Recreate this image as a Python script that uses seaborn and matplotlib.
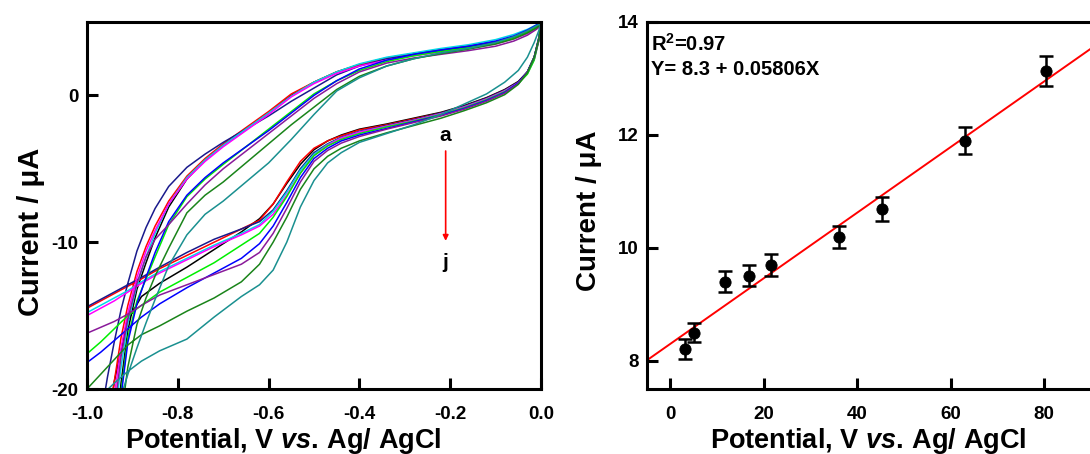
import matplotlib
matplotlib.use("Agg")
import matplotlib.pyplot as plt
import seaborn as sns
import pandas as pd

# ---------------- Left panel data: cyclic voltammograms a..j ----------------
V_low = [0.0, -0.005, -0.015, -0.03, -0.05, -0.08, -0.12, -0.17, -0.22, -0.28,
         -0.34, -0.40, -0.44, -0.47, -0.50, -0.53, -0.56, -0.59, -0.62, -0.66,
         -0.72, -0.78, -0.84, -0.88, -0.91, -0.94, -0.97, -1.0, -1.06]
V_up = [-0.99, -0.97, -0.955, -0.94, -0.925, -0.91, -0.89, -0.87, -0.85, -0.82, -0.78,
        -0.74, -0.70, -0.65, -0.60, -0.55, -0.50, -0.45, -0.40, -0.34, -0.28,
        -0.22, -0.16, -0.10, -0.06, -0.03, -0.01, 0.0]

a_low = [4.8, 3.9, 2.6, 1.6, 0.95, 0.4, -0.15, -0.7, -1.15, -1.55, -1.95, -2.3, -2.7, -3.1,
         -3.7, -4.7, -6.0, -7.4, -8.4, -9.3, -10.5, -11.7, -12.8, -13.7, -15.3, -19.5, -26, -33, -40]
a_up = [-60, -40, -32, -24, -19.6, -16.0, -13.2, -11.4, -9.7, -7.6, -5.7, -4.4, -3.4, -2.3, -1.2,
        0.0, 0.9, 1.6, 2.1, 2.55, 2.85, 3.1, 3.35, 3.65, 4.0, 4.35, 4.7, 4.85]
b_low = [4.8, 3.8, 2.5, 1.55, 0.9, 0.35, -0.2, -0.75, -1.2, -1.6, -2.0, -2.35, -2.75, -3.1,
         -3.6, -4.5, -5.9, -7.4, -8.5, -9.1, -10.0, -10.9, -11.8, -12.5, -13.0, -13.5, -14.0, -14.5, -24]
b_up = [-60, -28, -23, -19.5, -16.5, -14.3, -12.0, -10.3, -8.9, -7.2, -5.5, -4.3, -3.3, -2.2, -1.1,
        0.1, 0.9, 1.6, 2.1, 2.55, 2.85, 3.1, 3.35, 3.65, 4.0, 4.35, 4.7, 4.85]
c_low = [4.85, 3.9, 2.6, 1.6, 0.9, 0.35, -0.2, -0.75, -1.2, -1.65, -2.05, -2.45, -2.85, -3.3,
         -3.9, -5.0, -6.5, -7.8, -8.6, -9.1, -9.8, -10.7, -11.7, -12.4, -12.9, -13.4, -13.9, -14.4, -24]
c_up = [-60, -22, -19.2, -16.8, -14.6, -12.8, -10.6, -9.0, -7.7, -6.2, -4.9, -4.0, -3.2, -2.3, -1.4,
        -0.4, 0.5, 1.4, 2.0, 2.5, 2.8, 3.05, 3.3, 3.6, 3.95, 4.3, 4.65, 4.85]
d_low = [4.8, 3.8, 2.5, 1.5, 0.85, 0.3, -0.25, -0.8, -1.25, -1.7, -2.1, -2.5, -2.9, -3.35,
         -4.0, -5.1, -6.6, -7.9, -8.8, -9.4, -10.2, -11.1, -12.0, -12.7, -13.3, -13.8, -14.3, -14.8, -24]
d_up = [-60, -35, -28, -22, -18.5, -15.5, -12.9, -11.0, -9.4, -7.4, -5.6, -4.4, -3.4, -2.3, -1.2,
        -0.05, 0.9, 1.6, 2.15, 2.6, 2.9, 3.2, 3.45, 3.8, 4.15, 4.5, 4.8, 4.9]
e_low = [4.75, 3.7, 2.45, 1.5, 0.85, 0.3, -0.25, -0.8, -1.25, -1.7, -2.1, -2.5, -2.9, -3.4,
         -4.1, -5.3, -6.8, -8.1, -8.9, -9.5, -10.3, -11.2, -12.1, -12.8, -13.4, -14.0, -14.5, -15.0, -24]
e_up = [-60, -30, -25, -20.5, -17.2, -14.8, -12.4, -10.6, -9.2, -7.4, -5.7, -4.5, -3.5, -2.4, -1.3,
        -0.1, 0.8, 1.5, 2.0, 2.4, 2.7, 2.95, 3.2, 3.5, 3.85, 4.2, 4.55, 4.8]
f_low = [4.8, 3.7, 2.4, 1.45, 0.8, 0.25, -0.3, -0.85, -1.3, -1.75, -2.15, -2.6, -3.0, -3.45,
         -4.1, -5.3, -6.9, -8.3, -9.4, -10.2, -11.4, -12.4, -13.4, -14.3, -15.0, -15.9, -16.8, -17.6, -24]
f_up = [-60, -40, -32, -25, -20.2, -16.5, -14.0, -12.5, -11.0, -8.8, -6.9, -5.7, -4.7, -3.5, -2.3,
        -1.1, 0.1, 1.0, 1.7, 2.3, 2.7, 3.0, 3.25, 3.55, 3.9, 4.3, 4.65, 4.85]
g_low = [4.85, 3.8, 2.6, 1.6, 0.85, 0.2, -0.35, -0.9, -1.35, -1.8, -2.25, -2.7, -3.1, -3.6,
         -4.3, -5.6, -7.3, -8.9, -10.1, -11.1, -12.1, -13.1, -14.2, -15.1, -15.9, -16.7, -17.5, -18.2, -24]
g_up = [-60, -42, -33, -25.5, -20.5, -16.8, -14.2, -12.4, -10.7, -8.6, -6.8, -5.6, -4.6, -3.5, -2.4,
        -1.2, 0.0, 1.0, 1.8, 2.4, 2.8, 3.1, 3.35, 3.7, 4.05, 4.45, 4.8, 4.9]
h_low = [4.75, 3.75, 2.6, 1.6, 0.8, 0.15, -0.4, -0.95, -1.4, -1.85, -2.3, -2.8, -3.25, -3.75,
         -4.5, -5.9, -7.7, -9.4, -10.7, -11.5, -12.2, -12.9, -13.6, -14.3, -14.9, -15.4, -15.8, -16.2, -24]
h_up = [-60, -33, -27, -21.5, -17.8, -15.2, -12.8, -11.0, -9.8, -8.8, -7.4, -6.1, -5.0, -3.8, -2.6,
        -1.4, -0.2, 0.8, 1.6, 2.2, 2.55, 2.8, 3.05, 3.35, 3.7, 4.1, 4.5, 4.75]
i_low = [4.85, 3.8, 2.6, 1.55, 0.75, 0.05, -0.5, -1.05, -1.55, -2.05, -2.55, -3.1, -3.6, -4.15,
         -5.0, -6.4, -8.3, -10.0, -11.5, -12.7, -13.8, -14.7, -15.7, -16.3, -17.0, -18.0, -19.0, -20.0, -24]
i_up = [-60, -45, -36, -28, -22, -18.5, -15.6, -13.8, -12.3, -10.4, -8.0, -6.8, -5.9, -4.6, -3.3,
        -2.0, -0.8, 0.4, 1.3, 2.0, 2.5, 2.85, 3.15, 3.5, 3.85, 4.25, 4.6, 4.85]
j_low = [4.9, 4.4, 3.6, 2.6, 1.7, 0.9, 0.1, -0.6, -1.3, -2.0, -2.6, -3.2, -3.9, -4.6,
         -5.8, -7.6, -10.0, -11.9, -12.9, -13.7, -15.1, -16.6, -17.4, -18.1, -18.8, -19.6, -20.5, -21.5, -26]
j_up = [-60, -45, -34, -26, -20.5, -19.0, -17.2, -15.5, -13.9, -11.6, -9.5, -8.1, -7.2, -5.9, -4.6,
        -3.0, -1.3, 0.3, 1.2, 2.0, 2.5, 2.9, 3.2, 3.6, 4.0, 4.4, 4.75, 4.9]

curve_names = ["a", "b", "c", "d", "e", "f", "g", "h", "i", "j"]
curve_colors = ["#000000", "#ff0000", "#1a1a8c", "#00d8e8", "#ff00ff",
                "#00ee00", "#0000ff", "#8a1a9a", "#1a841a", "#1a9090"]
lows = [a_low, b_low, c_low, d_low, e_low, f_low, g_low, h_low, i_low, j_low]
ups = [a_up, b_up, c_up, d_up, e_up, f_up, g_up, h_up, i_up, j_up]

left_xticks = [-1.0, -0.8, -0.6, -0.4, -0.2, 0.0]
left_xticklabels = ["-1.0", "-0.8", "-0.6", "-0.4", "-0.2", "0.0"]
left_yticks = [0, -10, -20]
left_yticklabels = ["0", "-10", "-20"]

# ---------------- Right panel data: calibration ----------------
conc = [3.1, 5.1, 11.7, 16.8, 21.6, 36.1, 45.3, 63.1, 80.4]
current = [8.21, 8.50, 9.40, 9.51, 9.70, 10.19, 10.69, 11.90, 13.13]
current_err = [0.18, 0.17, 0.19, 0.19, 0.19, 0.20, 0.21, 0.24, 0.27]
fit_intercept = 8.3
fit_slope = 0.05806
right_xticks = [0, 20, 40, 60, 80]
right_yticks = [8, 10, 12, 14]

# ---------------- Styling ----------------
sns.set_theme(style="ticks")
plt.rcParams["font.family"] = ["Liberation Sans", "DejaVu Sans"]
plt.rcParams["font.weight"] = "bold"
plt.rcParams["mathtext.fontset"] = "custom"
plt.rcParams["mathtext.rm"] = "Liberation Sans:bold"
plt.rcParams["mathtext.it"] = "Liberation Sans:italic:bold"
plt.rcParams["mathtext.bf"] = "Liberation Sans:bold"
plt.rcParams["axes.unicode_minus"] = False
for key in ["text.color", "axes.labelcolor", "xtick.color", "ytick.color", "axes.edgecolor"]:
    plt.rcParams[key] = "black"

fig = plt.figure(figsize=(10.9, 4.54), dpi=100)
ax1 = fig.add_axes([87 / 1090, 1 - 389 / 454, 454 / 1090, 367 / 454])
ax2 = fig.add_axes([647 / 1090, 1 - 389 / 454, (1114 - 647) / 1090, 367 / 454])

rows = []
for name, lo, up in zip(curve_names, lows, ups):
    for v, i in zip(V_low, lo):
        rows.append((name, v, i))
    for v, i in zip(V_up, up):
        rows.append((name, v, i))
df = pd.DataFrame(rows, columns=["curve", "V", "I"])

sns.lineplot(data=df, x="V", y="I", hue="curve", palette=dict(zip(curve_names, curve_colors)),
             sort=False, estimator=None, legend=False, linewidth=1.1, ax=ax1)
ax1.set_xlim(-1.0, 0.0)
ax1.set_ylim(-20, 5)
ax1.set_xticks(left_xticks)
ax1.set_xticklabels(left_xticklabels)
ax1.set_yticks(left_yticks)
ax1.set_yticklabels(left_yticklabels)

ax1.annotate("", xy=(-0.21, -10.1), xytext=(-0.21, -3.6),
             arrowprops=dict(arrowstyle="-|>", color="red", lw=1.2, mutation_scale=8))
ax1.text(-0.21, -2.7, "a", ha="center", va="center", fontsize=15, fontweight="bold")
ax1.text(-0.21, -11.4, "j", ha="center", va="center", fontsize=15, fontweight="bold")

# right panel
dfr = pd.DataFrame({"conc": conc, "current": current})
ax2.errorbar(conc, current, yerr=current_err, fmt="none", ecolor="black",
             elinewidth=1.8, capsize=5, capthick=1.8, zorder=3)
sns.scatterplot(data=dfr, x="conc", y="current", color="black", s=65,
                edgecolor="black", zorder=4, ax=ax2)
ax2.axline((0, fit_intercept), slope=fit_slope, color="red", lw=1.4, zorder=2)
ax2.set_xlim(-5, 95)
ax2.set_ylim(7.5, 14)
ax2.set_xticks(right_xticks)
ax2.set_yticks(right_yticks)
ax2.text(0.008, 0.940, "R$^{\\mathbf{2}}$=0.97", transform=ax2.transAxes, fontsize=14.5,
         fontweight="bold", va="center", ha="left")
ax2.text(0.008, 0.870, "Y= 8.3 + 0.05806X", transform=ax2.transAxes, fontsize=14.5,
         fontweight="bold", va="center", ha="left")

for ax in (ax1, ax2):
    for sp in ax.spines.values():
        sp.set_linewidth(2.2)
        sp.set_color("black")
    ax.tick_params(direction="in", length=8, width=2.2, labelsize=13.5, colors="black")
    ax.tick_params(axis="x", pad=12)
    ax.tick_params(axis="y", pad=6)
    for lab in ax.get_xticklabels() + ax.get_yticklabels():
        lab.set_fontweight("bold")
    ax.set_xlabel("Potential, V $\\mathit{vs.}\\,$Ag/ AgCl", fontsize=19.5, fontweight="bold", labelpad=5)
    ax.grid(False)

ax1.xaxis.set_label_coords(0.432, -0.1)
ax1.xaxis.label.set_va("top")
ax2.xaxis.set_label_coords(0.473, -0.1)
ax2.xaxis.label.set_va("top")

ax1.set_ylabel("Current / μA", fontsize=21, fontweight="bold")
ax1.yaxis.set_label_coords(-0.0925, 0.428)
ax2.set_ylabel("Current / μA", fontsize=20, fontweight="bold")
ax2.yaxis.set_label_coords(-0.096, 0.485)

fig.savefig("out.png", dpi=100)
